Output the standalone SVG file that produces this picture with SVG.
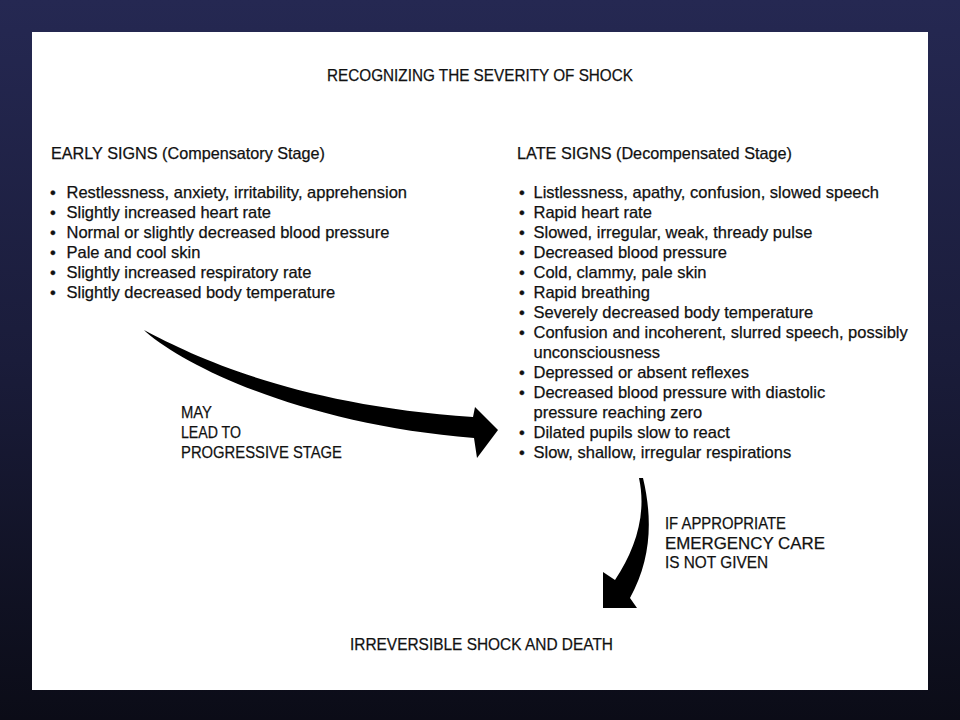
<svg xmlns="http://www.w3.org/2000/svg" width="960" height="720" viewBox="0 0 960 720">
  <defs>
    <linearGradient id="bg" x1="0" y1="0" x2="0" y2="1">
      <stop offset="0" stop-color="#252852"/>
      <stop offset="0.5" stop-color="#1a1c3a"/>
      <stop offset="1" stop-color="#0b0c17"/>
    </linearGradient>
    <style>
      text { font-family: "Liberation Sans", Arial, sans-serif; fill: #111; stroke: #111; stroke-width: 0.25px; }
      .body { font-size: 16.5px; }
      .caps { font-size: 17px; }
      .arrow { fill: #000; stroke: none; }
    </style>
  </defs>
  <rect x="0" y="0" width="960" height="720" fill="url(#bg)"/>
  <rect x="32" y="32" width="896" height="658" fill="#ffffff"/>

  <g id="title">
    <text class="caps" x="327" y="81" textLength="306" lengthAdjust="spacingAndGlyphs">RECOGNIZING THE SEVERITY OF SHOCK</text>
  </g>

  <g id="early-signs">
    <text class="body" x="51" y="159" textLength="274" lengthAdjust="spacingAndGlyphs">EARLY SIGNS (Compensatory Stage)</text>
    <text class="body" x="50" y="198">•</text><text class="body" x="66.5" y="198">Restlessness, anxiety, irritability, apprehension</text>
    <text class="body" x="50" y="218">•</text><text class="body" x="66.5" y="218">Slightly increased heart rate</text>
    <text class="body" x="50" y="238">•</text><text class="body" x="66.5" y="238">Normal or slightly decreased blood pressure</text>
    <text class="body" x="50" y="258">•</text><text class="body" x="66.5" y="258">Pale and cool skin</text>
    <text class="body" x="50" y="278">•</text><text class="body" x="66.5" y="278">Slightly increased respiratory rate</text>
    <text class="body" x="50" y="298">•</text><text class="body" x="66.5" y="298">Slightly decreased body temperature</text>
  </g>

  <g id="late-signs">
    <text class="body" x="517" y="159" textLength="275" lengthAdjust="spacingAndGlyphs">LATE SIGNS (Decompensated Stage)</text>
    <text class="body" x="519" y="198">•</text><text class="body" x="533.5" y="198">Listlessness, apathy, confusion, slowed speech</text>
    <text class="body" x="519" y="218">•</text><text class="body" x="533.5" y="218">Rapid heart rate</text>
    <text class="body" x="519" y="238">•</text><text class="body" x="533.5" y="238">Slowed, irregular, weak, thready pulse</text>
    <text class="body" x="519" y="258">•</text><text class="body" x="533.5" y="258">Decreased blood pressure</text>
    <text class="body" x="519" y="278">•</text><text class="body" x="533.5" y="278">Cold, clammy, pale skin</text>
    <text class="body" x="519" y="298">•</text><text class="body" x="533.5" y="298">Rapid breathing</text>
    <text class="body" x="519" y="318">•</text><text class="body" x="533.5" y="318">Severely decreased body temperature</text>
    <text class="body" x="519" y="338">•</text><text class="body" x="533.5" y="338">Confusion and incoherent, slurred speech, possibly</text>
    <text class="body" x="533.5" y="358">unconsciousness</text>
    <text class="body" x="519" y="378">•</text><text class="body" x="533.5" y="378">Depressed or absent reflexes</text>
    <text class="body" x="519" y="398">•</text><text class="body" x="533.5" y="398">Decreased blood pressure with diastolic</text>
    <text class="body" x="533.5" y="418">pressure reaching zero</text>
    <text class="body" x="519" y="438">•</text><text class="body" x="533.5" y="438">Dilated pupils slow to react</text>
    <text class="body" x="519" y="458">•</text><text class="body" x="533.5" y="458">Slow, shallow, irregular respirations</text>
  </g>

  <g id="irreversible">
    <text class="caps" x="350" y="650" textLength="263" lengthAdjust="spacingAndGlyphs">IRREVERSIBLE SHOCK AND DEATH</text>
  </g>

  <g id="connectors">
    <g id="arrow-progressive">
      <path class="arrow" d="M144,330 C200,360 300,405 473,417 L475,407 L498,430 L477,458 L474,438 C310,425 190,370 146,332 Z"/>
      <text class="caps" x="181" y="418" textLength="31" lengthAdjust="spacingAndGlyphs">MAY</text>
      <text class="caps" x="181" y="438" textLength="60" lengthAdjust="spacingAndGlyphs">LEAD TO</text>
      <text class="caps" x="181" y="458" textLength="161" lengthAdjust="spacingAndGlyphs">PROGRESSIVE STAGE</text>
    </g>
    <g id="arrow-irreversible">
      <path class="arrow" d="M643,478 C653,520 651,560 630,598 L637,608 L603,608 L603,572 L615,580 C635,550 647,515 639,478 Z"/>
      <text class="caps" x="665" y="529" textLength="121" lengthAdjust="spacingAndGlyphs">IF APPROPRIATE</text>
      <text class="caps" x="665" y="548.5" textLength="160" lengthAdjust="spacingAndGlyphs">EMERGENCY CARE</text>
      <text class="caps" x="665" y="568" textLength="103" lengthAdjust="spacingAndGlyphs">IS NOT GIVEN</text>
    </g>
  </g>
</svg>
